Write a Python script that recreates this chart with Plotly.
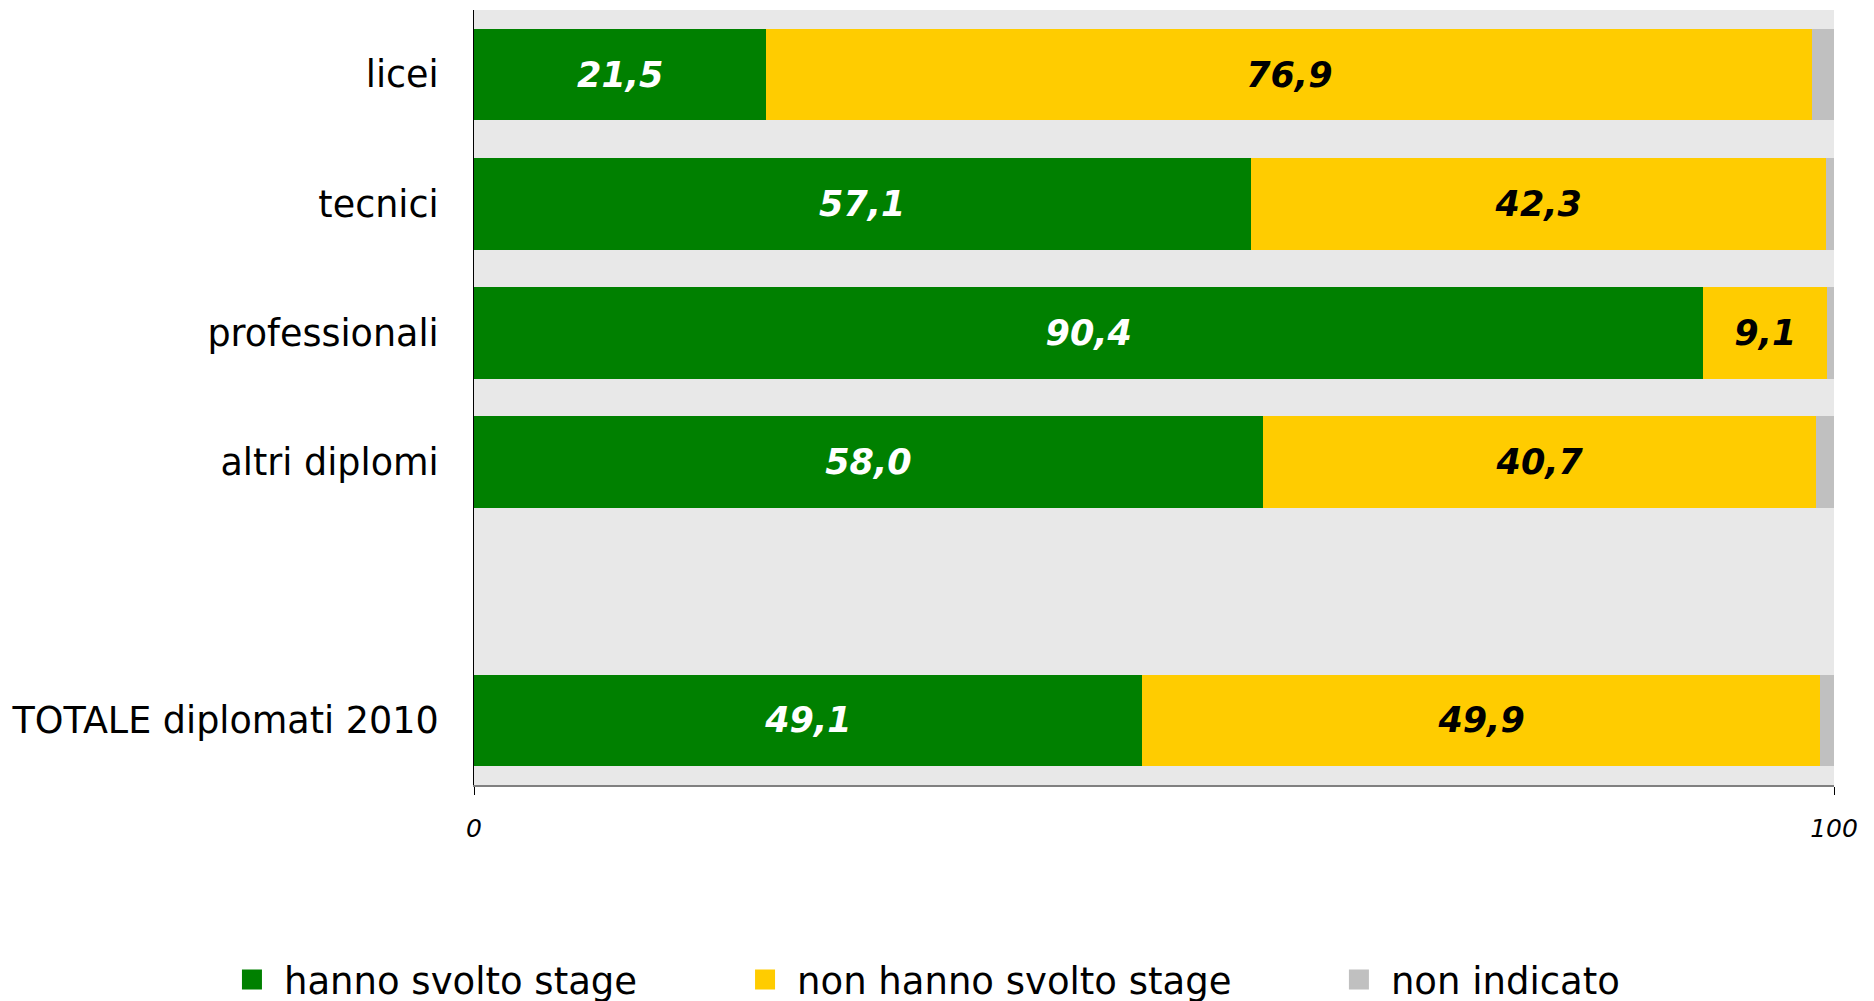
import plotly.graph_objects as go

categories = ["licei", "tecnici", "professionali", "altri diplomi", "TOTALE diplomati 2010"]
axis_order = ["licei", "tecnici", "professionali", "altri diplomi", " ", "TOTALE diplomati 2010"]
svolto = [21.5, 57.1, 90.4, 58.0, 49.1]
non_svolto = [76.9, 42.3, 9.1, 40.7, 49.9]
non_indicato = [1.6, 0.6, 0.5, 1.3, 1.0]
series_names = ["hanno svolto stage", "non hanno svolto stage", "non indicato"]
colors = ["#008000", "#FFCC00", "#C0C0C0"]
x_ticks = [0, 100]
x_ticklabels = ["0", "100"]

FONT = "DejaVu Sans"

def fmt(v):
    return f"{v:.1f}".replace(".", ",")

series = [svolto, non_svolto, non_indicato]
label_colors = ["white", "black", None]
legends = ["legend", "legend2", "legend3"]

fig = go.Figure()
for vals, name, col, lc in zip(series, series_names, colors, label_colors):
    if lc is not None:
        kw = dict(text=[fmt(v) for v in vals], textposition="inside", insidetextanchor="middle",
                  textangle=0,
                  textfont=dict(family=FONT, size=35, color=lc, weight="bold", style="italic"))
    else:
        kw = dict(textposition="none")
    fig.add_trace(go.Bar(
        y=categories, x=vals, orientation="h", name=name,
        marker=dict(color=col, line=dict(width=0)),
        hoverinfo="skip", showlegend=False, **kw,
    ))

# legend entries (square swatches)
for name, col, lg in zip(series_names, colors, legends):
    fig.add_trace(go.Scatter(
        x=[None], y=[None], mode="markers", name=name,
        marker=dict(symbol="square", size=16, color=col, line=dict(width=4, color=col)),
        hoverinfo="skip", showlegend=True, legend=lg,
    ))

legend_common = dict(orientation="h", xref="container", yref="container",
                     yanchor="middle", xanchor="left", y=0.029,
                     itemwidth=54,
                     font=dict(family=FONT, size=37, color="black"),
                     bgcolor="rgba(0,0,0,0)")

fig.update_layout(
    width=1874, height=1001,
    margin=dict(l=466, r=48, t=2, b=224, autoexpand=False),
    paper_bgcolor="white", plot_bgcolor="#E8E8E8",
    barmode="stack", bargap=0.29,
    showlegend=True,
    legend=dict(x=0.1131, **legend_common),
    legend2=dict(x=0.3869, **legend_common),
    legend3=dict(x=0.7038, **legend_common),
    xaxis=dict(range=[0, 100], tickvals=x_ticks, ticktext=x_ticklabels, automargin=False,
               showgrid=False, zeroline=False, showline=True, linecolor="#808080", linewidth=2,
               ticks="outside", ticklen=8, tickcolor="black", tickwidth=1,
               ticklabelstandoff=12,
               tickfont=dict(family=FONT, size=25, color="black", style="italic")),
    yaxis=dict(type="category", categoryorder="array", categoryarray=axis_order, automargin=False,
               range=[5.5, -0.5], showgrid=False, zeroline=False,
               showline=True, linecolor="black", linewidth=1, ticks="",
               ticklabelstandoff=27,
               tickfont=dict(family=FONT, size=36.5, color="black")),
)

fig.write_html("out.html")
